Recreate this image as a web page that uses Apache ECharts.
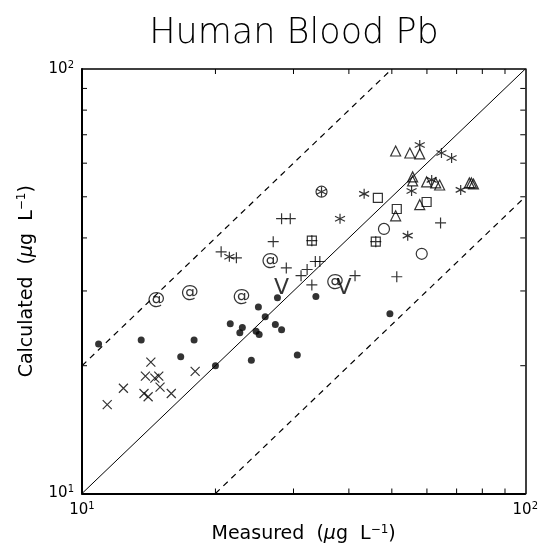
<!DOCTYPE html>
<html><head><meta charset="utf-8">
<script src="https://cdn.jsdelivr.net/npm/echarts@6/dist/echarts.min.js"></script>
<style>html,body{margin:0;padding:0;background:#fff}#c{width:541px;height:549px}</style>
</head><body><div id="c"></div>
<script>
// axis settings
const axisMin = 10, axisMax = 100;
const tickValues = [20, 30, 40, 50, 60, 70, 80, 90];

// reference lines (1:1, 2:1, 1:2)
const oneToOne = [[10, 10], [100, 100]];
const upperDashed = [[10, 20], [50, 100]];
const lowerDashed = [[20, 10], [100, 50]];

// data: [measured, calculated]
const dots = [[10.9,22.5],[13.6,23.0],[17.9,23.0],[16.7,21.0],[20.0,20.0],[21.6,25.1],[23.0,24.6],[22.7,23.9],[25.0,27.5],[25.9,26.1],[24.7,24.1],[25.1,23.7],[27.3,25.0],[28.2,24.3],[24.1,20.6],[27.6,28.9],[30.6,21.2],[33.7,29.1],[49.5,26.5]];
const crosses = [[11.4,16.2],[12.4,17.7],[14.3,20.4],[13.9,18.9],[14.6,18.7],[14.9,18.9],[15.0,17.8],[13.8,17.2],[14.1,16.9],[15.9,17.2],[18.0,19.4]];
const pluses = [[20.6,37.1],[22.3,35.9],[28.2,44.4],[29.5,44.4],[27.0,39.2],[28.9,34.0],[31.2,32.6],[32.2,33.7],[33.6,35.2],[34.4,35.2],[33.0,31.0],[41.3,32.6],[51.3,32.4],[64.4,43.4],[33.0,39.4],[46.0,39.2]];
const squares = [[46.5,49.7],[51.3,46.8],[59.9,48.6],[33.0,39.4],[46.0,39.2]];
const triangles = [[51.0,64.1],[54.9,63.4],[57.8,63.1],[55.7,55.7],[55.7,54.5],[59.9,54.2],[62.8,53.9],[64.1,53.3],[74.8,53.9],[75.6,53.9],[76.4,53.6],[57.8,47.9],[51.0,45.1]];
const asterisks = [[57.8,66.2],[64.7,63.4],[68.2,61.7],[61.5,54.8],[55.4,51.6],[71.5,51.9],[43.3,50.8],[38.2,44.4],[54.3,40.5],[21.5,36.1],[34.7,51.4]];
const circles = [[48.0,42.0],[58.4,36.7],[34.7,51.4]];
const ats = [[14.7,28.6],[17.5,29.7],[22.9,29.1],[26.6,35.5],[37.2,31.6]];
const vees = [[28.2,30.5],[39.0,30.4]];

const FONT = 'DejaVu Sans';
const supRich = {
  n: { fontFamily: FONT, fontSize: 19, color: '#000' },
  it: { fontFamily: FONT, fontSize: 19, fontStyle: 'italic', color: '#000' },
  sup: { fontFamily: FONT, fontSize: 12, color: '#000', padding: [0, 0, 10, 0] }
};
const tickRich = {
  b: { fontFamily: FONT, fontSize: 15, color: '#000' },
  s: { fontFamily: FONT, fontSize: 10, color: '#000', padding: [0, 0, 8, 0] }
};
function tickFmt(v) {
  return '{b|10}{s|' + Math.round(Math.log10(v)) + '}';
}

function makeAxis(pos, showLabel, width, name, nameGap) {
  const ax = {
    type: 'log', logBase: 10, min: axisMin, max: axisMax, position: pos,
    splitLine: { show: false },
    axisLine: { show: true, lineStyle: { color: '#000', width: width } },
    axisTick: { show: false },
    minorTick: { show: false },
    axisLabel: { show: showLabel, formatter: tickFmt, rich: tickRich, margin: 8 }
  };
  if (name) {
    ax.name = name; ax.nameLocation = 'middle'; ax.nameGap = nameGap;
    ax.nameTextStyle = { rich: supRich };
  }
  return ax;
}

// inward minor ticks on all four sides, placed through the axes' log scales
const TICK_LEN = 5;
function renderTicks(params, api) {
  const v = api.value(0);
  const b = api.coord([v, axisMin]);
  const t = api.coord([v, axisMax]);
  const l = api.coord([axisMin, v]);
  const r = api.coord([axisMax, v]);
  const st = { stroke: '#000', lineWidth: 1 };
  return { type: 'group', children: [
    { type: 'line', shape: { x1: b[0], y1: b[1], x2: b[0], y2: b[1] - TICK_LEN }, style: st },
    { type: 'line', shape: { x1: t[0], y1: t[1], x2: t[0], y2: t[1] + TICK_LEN }, style: st },
    { type: 'line', shape: { x1: l[0], y1: l[1], x2: l[0] + TICK_LEN, y2: l[1] }, style: st },
    { type: 'line', shape: { x1: r[0], y1: r[1], x2: r[0] - TICK_LEN, y2: r[1] }, style: st }
  ] };
}

const hollow = { color: 'rgba(0,0,0,0)', borderColor: '#000', borderWidth: 1.2 };
function scatter(data, symbol, size, style) {
  return { type: 'scatter', data: data, symbol: symbol, symbolSize: size, itemStyle: style, silent: true, z: 3 };
}
function textMark(data, txt, fs) {
  return { type: 'scatter', data: data, symbol: 'circle', symbolSize: 1, itemStyle: { color: 'rgba(0,0,0,0)' },
    label: { show: true, position: 'inside', formatter: txt, fontFamily: FONT, fontSize: fs, color: '#000' }, silent: true, z: 4 };
}
function refLine(data, dashed) {
  return { type: 'line', data: data, symbol: 'none', silent: true, z: 2,
    lineStyle: { color: '#000', width: dashed ? 1.2 : 1, type: dashed ? [6, 5] : 'solid' } };
}

const chart = echarts.init(document.getElementById('c'), null, { renderer: 'canvas' });
chart.setOption({
  animation: false,
  backgroundColor: '#fff',
  title: { text: 'Human Blood Pb', left: 289, top: 11, textAlign: 'center',
    textStyle: { fontFamily: FONT, fontSize: 35, fontWeight: 200, color: '#000' } },
  grid: { left: 82, right: 14, top: 69, bottom: 55, containLabel: false },
  xAxis: [
    makeAxis('bottom', true, 2, '{n|Measured  (}{it|μ}{n|g  L}{sup|−1}{n|)}', 30),
    makeAxis('top', false, 1.5)
  ],
  yAxis: [
    makeAxis('left', true, 2, '{n|Calculated  (}{it|μ}{n|g  L}{sup|−1}{n|)}', 44),
    makeAxis('right', false, 1.5)
  ],
  series: [
    { type: 'custom', data: tickValues.map(v => [v, v]), renderItem: renderTicks, clip: false, silent: true, z: 5 },
    refLine(oneToOne, false),
    refLine(upperDashed, true),
    refLine(lowerDashed, true),
    scatter(dots, 'circle', 7, { color: '#000' }),
    scatter(crosses, 'path://M0,0L10,10M10,0L0,10', 9, hollow),
    scatter(pluses, 'path://M5,0L5,10M0,5L10,5', 11, hollow),
    scatter(asterisks, 'path://M5,0L5,10M0.67,2.5L9.33,7.5M9.33,2.5L0.67,7.5', 10, hollow),
    scatter(squares, 'rect', 9, hollow),
    scatter(triangles, 'triangle', 10, hollow),
    scatter(circles, 'circle', 11, hollow),
    textMark(ats, '@', 18),
    textMark(vees, 'V', 22)
  ]
});
</script>
</body></html>
